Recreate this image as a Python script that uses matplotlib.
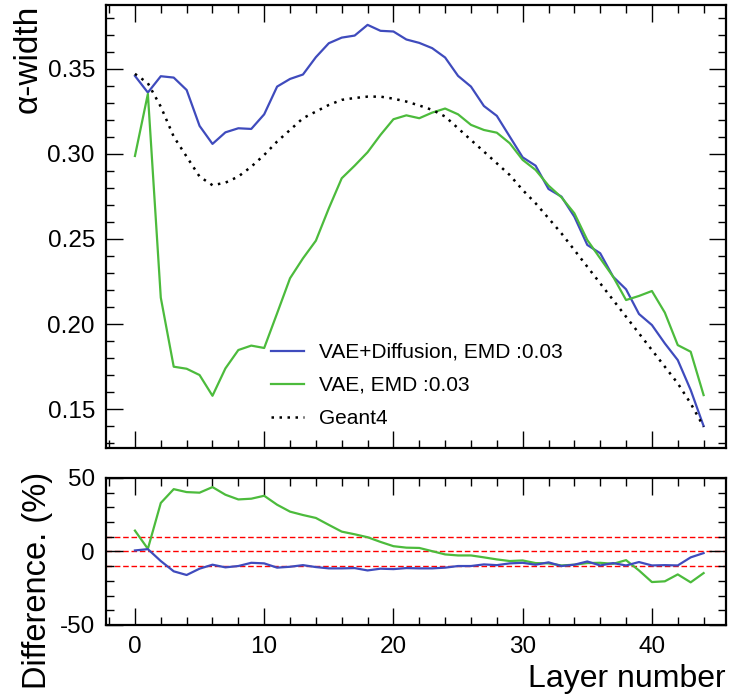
import matplotlib
matplotlib.use("Agg")
import matplotlib.pyplot as plt
from matplotlib.ticker import MultipleLocator, FormatStrFormatter

plt.rcParams['font.family'] = ['Liberation Sans', 'DejaVu Sans']
plt.rcParams['axes.unicode_minus'] = False

layers = list(range(45))

vae_diff = [0.3459, 0.3361, 0.3457, 0.3449, 0.3376, 0.3165, 0.3059, 0.3127, 0.3151, 0.3147,
            0.3233, 0.3396, 0.3441, 0.3467, 0.3569, 0.3651, 0.3684, 0.3696, 0.3759, 0.3724,
            0.3720, 0.3673, 0.3653, 0.3622, 0.3567, 0.3459, 0.3396, 0.3282, 0.3224, 0.3102,
            0.2980, 0.2931, 0.2794, 0.2749, 0.2631, 0.2465, 0.2416, 0.2278, 0.2204, 0.2059,
            0.1994, 0.1886, 0.1788, 0.1612, 0.1400]

vae = [0.2988, 0.3353, 0.2155, 0.1749, 0.1737, 0.1700, 0.1578, 0.1739, 0.1847, 0.1873,
       0.1859, 0.2063, 0.2269, 0.2386, 0.2490, 0.2680, 0.2857, 0.2931, 0.3010, 0.3112,
       0.3204, 0.3227, 0.3210, 0.3243, 0.3267, 0.3233, 0.3171, 0.3141, 0.3125, 0.3063,
       0.2965, 0.2906, 0.2814, 0.2745, 0.2651, 0.2494, 0.2386, 0.2278, 0.2141, 0.2165,
       0.2194, 0.2067, 0.1876, 0.1837, 0.1582]

geant4 = [0.3471, 0.3416, 0.3278, 0.3102, 0.2984, 0.2867, 0.2816, 0.2831, 0.2867, 0.2925,
          0.2994, 0.3073, 0.3141, 0.3210, 0.3249, 0.3288, 0.3318, 0.3329, 0.3337, 0.3337,
          0.3325, 0.3308, 0.3285, 0.3259, 0.3220, 0.3151, 0.3082, 0.3014, 0.2945, 0.2876,
          0.2788, 0.2710, 0.2622, 0.2533, 0.2435, 0.2337, 0.2239, 0.2141, 0.2043, 0.1945,
          0.1847, 0.1749, 0.1651, 0.1533, 0.1396]

diff_vae_diff = [0.7, 1.6, -6.5, -13.5, -16.0, -11.7, -9.0, -10.8, -9.9, -7.7,
                 -8.1, -11.0, -10.4, -9.3, -10.6, -11.5, -11.5, -11.3, -12.9, -11.7,
                 -12.0, -11.3, -11.5, -11.5, -11.0, -9.9, -9.9, -8.8, -9.3, -8.1,
                 -7.7, -9.0, -7.4, -9.9, -9.0, -6.8, -9.5, -7.9, -9.5, -7.2,
                 -9.5, -9.3, -9.5, -4.0, -1.1]

diff_vae = [14.2, 1.8, 33.0, 42.4, 40.4, 40.0, 43.8, 38.6, 35.4, 35.9,
            37.9, 31.8, 27.1, 24.8, 22.8, 18.1, 13.5, 11.7, 9.7, 6.5,
            3.6, 2.6, 2.4, 0.2, -2.0, -2.7, -2.7, -4.0, -5.4, -6.5,
            -6.1, -7.9, -8.1, -9.5, -9.0, -7.9, -7.7, -8.4, -5.9, -12.9,
            -20.8, -20.3, -15.6, -21.0, -14.7]

ref_lines = [10, 0, -10]

labels = ["VAE+Diffusion, EMD :0.03", "VAE, EMD :0.03", "Geant4"]

BLUE = "#3f4bbd"
GREEN = "#4cbb3c"

fig = plt.figure(figsize=(7.33, 6.99), dpi=100)
ax1 = fig.add_axes([0.1446, 0.3591, 0.8458, 0.6338])
ax2 = fig.add_axes([0.1446, 0.1059, 0.8458, 0.2103])

ax1.plot(layers, vae_diff, color=BLUE, lw=1.6, label=labels[0])
ax1.plot(layers, vae, color=GREEN, lw=1.6, label=labels[1])
ax1.plot(layers, geant4, color="black", lw=1.8, ls=(0, (1, 2.2)), label=labels[2])

for v in ref_lines:
    ax2.axhline(v, color="#ff0000", lw=1.0, ls=(0, (4, 2)), zorder=1)
ax2.plot(layers, diff_vae, color=GREEN, lw=1.6, zorder=2)
ax2.plot(layers, diff_vae_diff, color=BLUE, lw=1.6, zorder=2)

xlim = (-2.24, 45.73)
ax1.set_xlim(*xlim)
ax2.set_xlim(*xlim)
ax1.set_ylim(0.1271, 0.3876)
ax2.set_ylim(-50, 50)

for ax in (ax1, ax2):
    ax.xaxis.set_major_locator(MultipleLocator(10))
    ax.xaxis.set_minor_locator(MultipleLocator(2))
    ax.tick_params(which="both", direction="in", top=True, right=True, width=1.0)
    ax.tick_params(which="major", length=12, labelsize=17.5, pad=8)
    ax.tick_params(which="minor", length=6)
    for s in ax.spines.values():
        s.set_linewidth(1.6)

ax1.yaxis.set_major_locator(MultipleLocator(0.05))
ax1.yaxis.set_minor_locator(MultipleLocator(0.01))
ax1.yaxis.set_major_formatter(FormatStrFormatter('%.2f'))
ax1.tick_params(axis="x", labelbottom=False)
ax2.yaxis.set_major_locator(MultipleLocator(50))
ax2.yaxis.set_minor_locator(MultipleLocator(10))

ax1.set_ylabel("α-width", fontsize=24, loc="top")
ax1.yaxis.set_label_coords(-0.100, 1.0)
ax2.set_ylabel("Difference. (%)", fontsize=23.5, loc="top")
ax2.yaxis.set_label_coords(-0.085, 1.04)
ax2.set_xlabel("Layer number", fontsize=23, loc="right", labelpad=4)

ax1.legend(loc="lower left", bbox_to_anchor=(0.2355, 0.003), frameon=False,
           fontsize=15, handlelength=1.59, handletextpad=0.72, labelspacing=0.67)

fig.savefig("out.png", dpi=100)
